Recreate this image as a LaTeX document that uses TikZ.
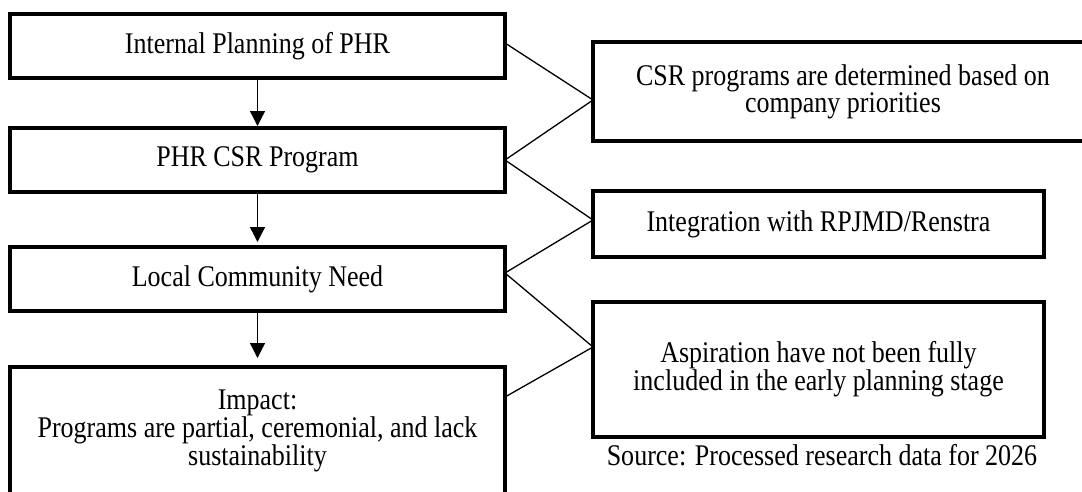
\documentclass[tikz,border=0pt]{standalone}
\usepackage{fontspec}
\setmainfont{Liberation Serif}[FakeStretch=0.867]
\usetikzlibrary{arrows.meta}
\tikzset{
  box/.style={draw=black, line width=4pt, rectangle, outer sep=0pt, inner sep=0pt,
    align=center, font=\fontsize{30}{27}\selectfont},
  link/.style={draw=black, line width=1.3pt},
  flow/.style={draw=black, line width=1.3pt, -{Triangle[width=15pt,length=15pt]}},
}
\begin{document}
\begin{tikzpicture}[x=1pt,y=-1pt]
\useasboundingbox (0,0) rectangle (1082,491);
\fill[white] (0,0) rectangle (1082,491);
\clip (0,0) rectangle (1082,491);
% left column
\node[box, minimum width=495pt, minimum height=64pt] (b1) at (257.5,46) {Internal Planning of PHR};
\node[box, minimum width=495pt, minimum height=64pt] (b2) at (257.5,160) {PHR CSR Program};
\node[box, minimum width=495pt, minimum height=64pt] (b3) at (257.5,279) {Local Community Need};
\node[box, minimum width=495pt, minimum height=128pt] (b4) at (257.5,431) {Impact:\\Programs are partial, ceremonial, and lack\\sustainability};
% right column
\node[box, minimum width=500pt, minimum height=99pt] (bA) at (843,91.5) {CSR programs are determined based on\\company priorities};
\node[box, minimum width=451pt, minimum height=66pt] (bB) at (818.5,224) {Integration with RPJMD/Renstra};
\node[box, minimum width=451pt, minimum height=135pt] (bC) at (818.5,369.5) {Aspiration have not been fully\\included in the early planning stage};
\node[anchor=base, inner sep=0pt, font=\fontsize{30}{27}\selectfont] (src) at (822,465) {Source: Processed research data for 2026};
% vertical flow
\draw[flow, shorten >=2pt] (b1.south) -- (b2.north);
\draw[flow, shorten >=5pt] (b2.south) -- (b3.north);
\draw[flow, shorten >=9pt] (b3.south) -- (b4.north);
% links
\draw[link] ([yshift=3pt]b1.east) -- ([yshift=-8.5pt]bA.west);
\draw[link] (b2.east) -- ([yshift=-8.5pt]bA.west);
\draw[link] (b2.east) -- ([yshift=4pt]bB.west);
\draw[link] ([yshift=6pt]b3.east) -- ([yshift=4pt]bB.west);
\draw[link] ([yshift=6pt]b3.east) -- ([yshift=22.5pt]bC.west);
\draw[link] ([yshift=34pt]b4.east) -- ([yshift=22.5pt]bC.west);
\end{tikzpicture}
\end{document}
